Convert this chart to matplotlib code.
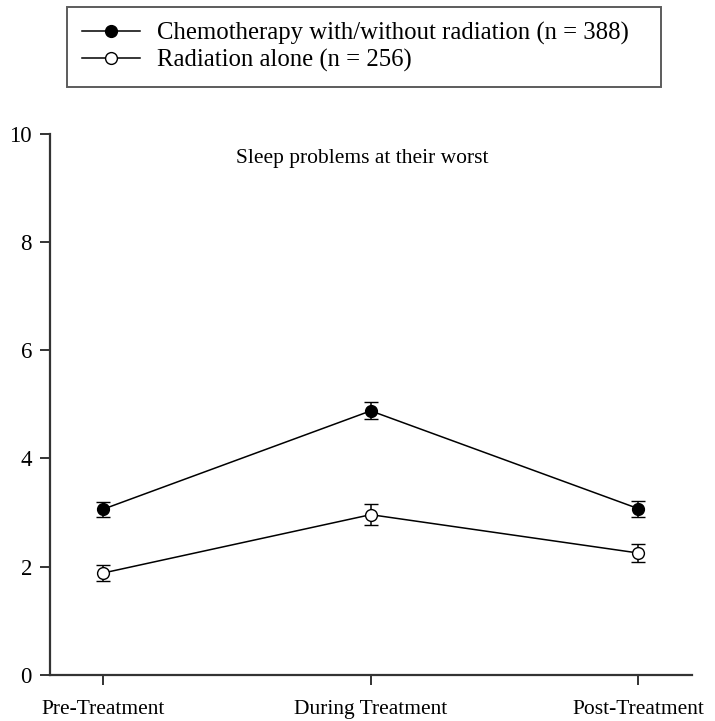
import matplotlib
matplotlib.use("Agg")
import matplotlib.pyplot as plt
from matplotlib.lines import Line2D

plt.rcParams['font.family'] = ['Liberation Serif', 'DejaVu Serif']

categories = ["Pre-Treatment", "During Treatment", "Post-Treatment"]
chemo_mean = [3.06, 4.88, 3.07]
chemo_err = [0.14, 0.16, 0.15]
rad_mean = [1.88, 2.96, 2.25]
rad_err = [0.15, 0.19, 0.17]
chemo_label = "Chemotherapy with/without radiation (n = 388)"
rad_label = "Radiation alone (n = 256)"
title = "Sleep problems at their worst"
yticks = [0, 2, 4, 6, 8, 10]

fig = plt.figure(figsize=(7.15, 7.21), dpi=100)
ax = fig.add_axes([50/715, 46.3/721, 642/715, 540.7/721])

x = list(range(len(categories)))
spine_col = '#333333'

ax.errorbar(x, chemo_mean, yerr=chemo_err, color='black', lw=1.1,
            marker='o', ms=8.5, mfc='black', mec='black', mew=1,
            ecolor='black', elinewidth=1.1, capsize=5.2, capthick=1.1,
            label=chemo_label, clip_on=False, zorder=3)
ax.errorbar(x, rad_mean, yerr=rad_err, color='black', lw=1.1,
            marker='o', ms=8.5, mfc='white', mec='black', mew=1,
            ecolor='black', elinewidth=1.1, capsize=5.2, capthick=1.1,
            label=rad_label, clip_on=False, zorder=3)

ax.set_xlim(-0.198, 2.2)
ax.set_ylim(0, 10)
ax.set_xticks(x)
ax.set_xticklabels(categories)
ax.set_yticks(yticks)
for s in ['top', 'right']:
    ax.spines[s].set_visible(False)
for s in ['left', 'bottom']:
    ax.spines[s].set_color(spine_col)
    ax.spines[s].set_linewidth(1.6)
ax.tick_params(axis='y', direction='out', length=7, width=1.4, color=spine_col,
               labelsize=16.5, pad=6)
ax.tick_params(axis='x', direction='out', length=7, width=1.4, color=spine_col,
               labelsize=15.5, pad=11)

ax.text(0.486, 0.954, title, transform=ax.transAxes, ha='center', va='center',
        fontsize=15.5)

lh1 = Line2D([], [], color='black', lw=1.1, marker='o', ms=8.5, mfc='black', mec='black')
lh2 = Line2D([], [], color='black', lw=1.1, marker='o', ms=8.5, mfc='white', mec='black')
leg = fig.legend([lh1, lh2], [chemo_label, rad_label],
                 loc='upper left',
                 bbox_to_anchor=(67/715, 1 - 84/721, (661-67)/715, 77/721),
                 mode='expand', fontsize=17.8, frameon=True, fancybox=False,
                 edgecolor=spine_col, handlelength=2.35, handletextpad=0.69,
                 labelspacing=0.15, borderpad=0.6, borderaxespad=0)
leg.get_frame().set_linewidth(1.4)

fig.savefig("out.png", dpi=100)
